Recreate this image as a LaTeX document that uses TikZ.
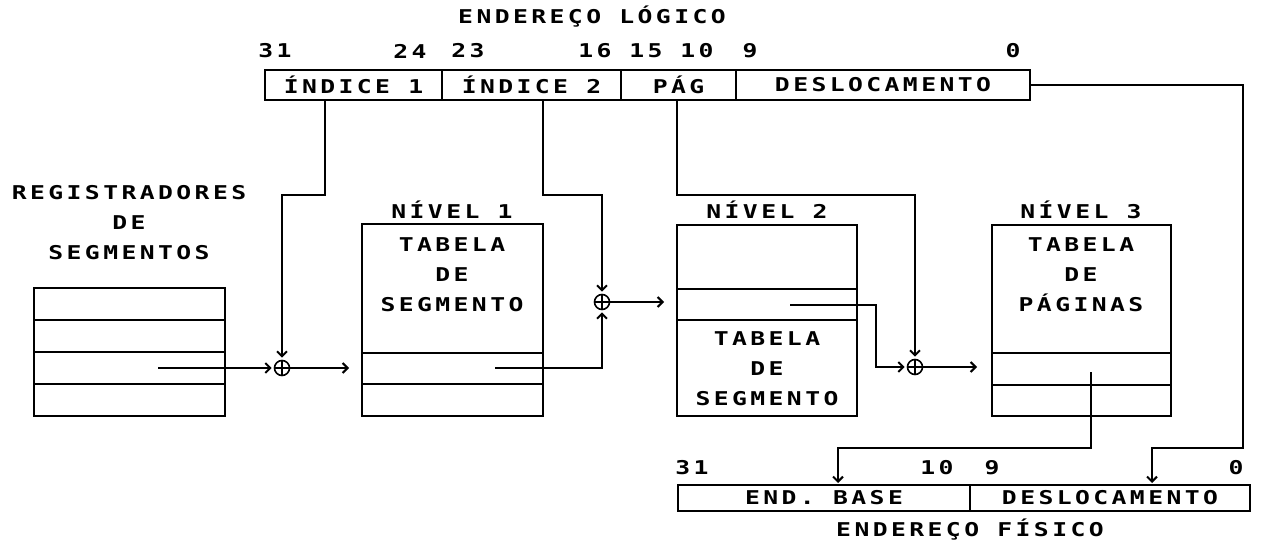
\documentclass[tikz,border=0pt]{standalone}
\usepackage{fontspec}
\usetikzlibrary{arrows.meta,calc}
\newfontfamily\dotfont[FakeStretch=1.3,LetterSpace=18]{DejaVu Sans Mono}
\newcommand{\dotlabel}{\dotfont\bfseries\fontsize{19}{22}\selectfont}
\newcommand{\dotblock}{\dotfont\bfseries\fontsize{19}{30}\selectfont}
\tikzset{
  field/.style={draw, line width=2pt, minimum height=29pt, inner sep=0pt, font=\dotlabel},
  tabBox/.style={draw, line width=2pt, inner sep=0pt},
  dotText/.style={font=\dotlabel, inner sep=0pt},
  dotLines/.style={font=\dotblock, align=center, inner sep=0pt},
  sumNode/.style={circle, draw, line width=1.6pt, minimum size=15pt, inner sep=0pt,
    path picture={\draw[line width=1.4pt] (path picture bounding box.north) -- (path picture bounding box.south)
      (path picture bounding box.west) -- (path picture bounding box.east);}},
  link/.style={line width=2pt},
  linkArrow/.style={link, -{Straight Barb[length=5pt,width=10pt]}}
}
\begin{document}
\begin{tikzpicture}[x=1pt, y=-1pt]
  \useasboundingbox (0,0) rectangle (1272,543);
  % endereco logico
  \node[dotText] (logTitle) at (592,17) {ENDEREÇO LÓGICO};
  \node[field, minimum width=177pt] (idx1) at (353.5,85) {ÍNDICE 1};
  \node[field, minimum width=179pt] (idx2) at (531.5,85) {ÍNDICE 2};
  \node[field, minimum width=115pt] (pag) at (678.5,85) {PÁG};
  \node[field, minimum width=294pt] (desl) at (883,85) {DESLOCAMENTO};
  \node[dotText] (b31) at (275,51) {31};
  \node[dotText] (b24) at (410,51) {24};
  \node[dotText] (b23) at (468,51) {23};
  \node[dotText] (b16) at (595,51) {16};
  \node[dotText] (b15) at (646,51) {15};
  \node[dotText] (b10) at (697,51) {10};
  \node[dotText] (b9) at (750,51) {9};
  \node[dotText] (b0) at (1013,51) {0};

  % registradores
  \node[dotLines] (regsText) at (129,223) {REGISTRADORES\\DE\\SEGMENTOS};
  \node[tabBox, minimum width=191pt, minimum height=128pt] (regs) at (129.5,352) {};
  \foreach \y in {320,352,384}
    \draw[link] (regs.west |- 0,\y) -- (regs.east |- 0,\y);

  % nivel 1
  \node[dotText] (tab1Name) at (452,210) {NÍVEL 1};
  \node[tabBox, minimum width=181pt, minimum height=192pt] (tab1) at (452.5,320) {};
  \node[dotLines] (tab1Text) at (452,275) {TABELA\\DE\\SEGMENTO};
  \foreach \y in {353,384}
    \draw[link] (tab1.west |- 0,\y) -- (tab1.east |- 0,\y);

  % nivel 2
  \node[dotText] (tab2Name) at (767,210) {NÍVEL 2};
  \node[tabBox, minimum width=180pt, minimum height=191pt] (tab2) at (767,320.5) {};
  \node[dotLines] (tab2Text) at (767,369) {TABELA\\DE\\SEGMENTO};
  \foreach \y in {289,320}
    \draw[link] (tab2.west |- 0,\y) -- (tab2.east |- 0,\y);

  % nivel 3
  \node[dotText] (tab3Name) at (1081,210) {NÍVEL 3};
  \node[tabBox, minimum width=179pt, minimum height=191pt] (tab3) at (1081.5,320.5) {};
  \node[dotLines] (tab3Text) at (1081,275) {TABELA\\DE\\PÁGINAS};
  \foreach \y in {353,385}
    \draw[link] (tab3.west |- 0,\y) -- (tab3.east |- 0,\y);

  % somadores
  \node[sumNode] (sum1) at (282,368) {};
  \node[sumNode] (sum2) at (602,302) {};
  \node[sumNode] (sum3) at (915,367) {};

  % endereco fisico
  \node[field, minimum width=292pt, minimum height=26pt] (pbase) at (824,498) {END. BASE};
  \node[field, minimum width=280pt, minimum height=26pt] (poff) at (1110,498) {DESLOCAMENTO};
  \node[dotText] (p31) at (692,468) {31};
  \node[dotText] (p10) at (937,468) {10};
  \node[dotText] (p9) at (992,468) {9};
  \node[dotText] (p0) at (1236,468) {0};
  \node[dotText] (physTitle) at (970,530) {ENDEREÇO FÍSICO};

  \coordinate (regSel) at (158,368);
  \coordinate (tab1Sel) at (495,368);
  \coordinate (tab2Sel) at (790,305);
  \coordinate (tab3Sel) at (1091,372);
  \coordinate (deslTurn) at (1243,448);

  \draw[linkArrow, shorten >=2pt] ([xshift=-28.5pt]idx1.south) -- ++(0,94) -| (sum1);
  \draw[linkArrow, shorten >=2pt] ([xshift=11.5pt]idx2.south) -- ++(0,94) -| (sum2);
  \draw[linkArrow, shorten >=2pt] ([xshift=-1.5pt]pag.south) -- ++(0,94) -| (sum3);
  \draw[linkArrow, shorten >=1pt] (desl.east) -| (deslTurn) -| ([xshift=42pt]poff.north);
  \draw[linkArrow, shorten >=2pt] (regSel) -- (sum1);
  \draw[linkArrow, shorten >=12pt] (sum1) -- (sum1 -| tab1.west);
  \draw[linkArrow, shorten >=2pt] (tab1Sel) -| (sum2);
  \draw[linkArrow, shorten >=12pt] (sum2) -- (sum2 -| tab2.west);
  \draw[linkArrow, shorten >=2pt] (tab2Sel) -- ++(86,0) |- (sum3);
  \draw[linkArrow, shorten >=14pt] (sum3) -- (sum3 -| tab3.west);
  \draw[linkArrow, shorten >=1pt] (tab3Sel) -- ++(0,76) -| ([xshift=14pt]pbase.north);
\end{tikzpicture}
\end{document}
